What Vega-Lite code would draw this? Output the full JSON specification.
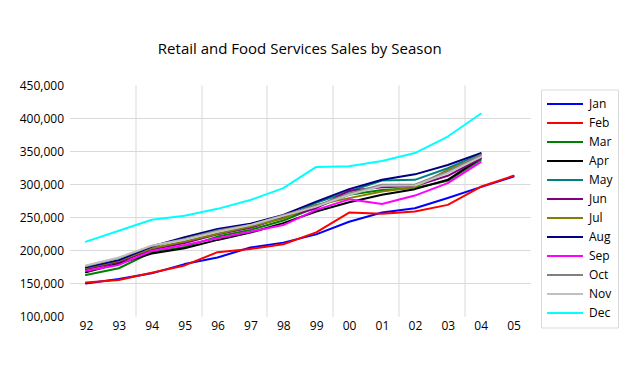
{
  "$schema": "https://vega.github.io/schema/vega-lite/v6.json",
  "width": 460.5,
  "height": 231.3,
  "autosize": {"type": "none"},
  "padding": {"left": 69.5, "top": 85, "right": 103, "bottom": 74.7},
  "background": "white",
  "title": {
    "text": "Retail and Food Services Sales by Season",
    "font": "Open Sans",
    "fontSize": 15,
    "fontWeight": "normal",
    "color": "#000000",
    "anchor": "middle",
    "offset": 22
  },
  "config": {
    "view": {"stroke": null},
    "font": "Open Sans"
  },
  "data": {
    "values": [
      {"yr": 1992, "Jan": 149700, "Feb": 151000, "Mar": 162600, "Apr": 166600, "May": 172000, "Jun": 171000, "Jul": 173000, "Aug": 174000, "Sep": 169000, "Oct": 176000, "Nov": 177000, "Dec": 213000},
      {"yr": 1993, "Jan": 156500, "Feb": 155000, "Mar": 172700, "Apr": 180000, "May": 183000, "Jun": 182000, "Jul": 184000, "Aug": 185000, "Sep": 177700, "Oct": 188000, "Nov": 189000, "Dec": 229400},
      {"yr": 1994, "Jan": 165000, "Feb": 166000, "Mar": 197000, "Apr": 195000, "May": 202000, "Jun": 201000, "Jul": 203000, "Aug": 205500, "Sep": 199000, "Oct": 206500, "Nov": 207000, "Dec": 246000},
      {"yr": 1995, "Jan": 179000, "Feb": 177000, "Mar": 205000, "Apr": 203000, "May": 213000, "Jun": 211000, "Jul": 213000, "Aug": 219700, "Sep": 208000, "Oct": 217000, "Nov": 216000, "Dec": 252000},
      {"yr": 1996, "Jan": 189000, "Feb": 197000, "Mar": 220600, "Apr": 215600, "May": 225000, "Jun": 224000, "Jul": 224700, "Aug": 232000, "Sep": 218000, "Oct": 229700, "Nov": 228000, "Dec": 262600},
      {"yr": 1997, "Jan": 204000, "Feb": 202000, "Mar": 230700, "Apr": 226600, "May": 235000, "Jun": 234000, "Jul": 236000, "Aug": 240000, "Sep": 228000, "Oct": 238000, "Nov": 238000, "Dec": 276000},
      {"yr": 1998, "Jan": 211500, "Feb": 209000, "Mar": 245000, "Apr": 241000, "May": 249000, "Jun": 250000, "Jul": 248000, "Aug": 253500, "Sep": 238000, "Oct": 253000, "Nov": 252000, "Dec": 294000},
      {"yr": 1999, "Jan": 224000, "Feb": 227000, "Mar": 265000, "Apr": 258500, "May": 271600, "Jun": 263600, "Jul": 268600, "Aug": 273600, "Sep": 261000, "Oct": 267000, "Nov": 266000, "Dec": 326000},
      {"yr": 2000, "Jan": 243000, "Feb": 257000, "Mar": 284000, "Apr": 272700, "May": 288800, "Jun": 290000, "Jul": 278800, "Aug": 292400, "Sep": 277000, "Oct": 286000, "Nov": 284000, "Dec": 327000},
      {"yr": 2001, "Jan": 257000, "Feb": 255000, "Mar": 291000, "Apr": 283800, "May": 305500, "Jun": 295400, "Jul": 288800, "Aug": 306500, "Sep": 270000, "Oct": 299000, "Nov": 297400, "Dec": 335000},
      {"yr": 2002, "Jan": 263600, "Feb": 258500, "Mar": 294000, "Apr": 292400, "May": 306500, "Jun": 297000, "Jul": 295400, "Aug": 314800, "Sep": 282700, "Oct": 299000, "Nov": 298000, "Dec": 347000},
      {"yr": 2003, "Jan": 279000, "Feb": 268600, "Mar": 305000, "Apr": 306500, "May": 324000, "Jun": 312600, "Jul": 321600, "Aug": 329000, "Sep": 301500, "Oct": 319000, "Nov": 316600, "Dec": 372000},
      {"yr": 2004, "Jan": 295400, "Feb": 296000, "Mar": 336800, "Apr": 339400, "May": 345400, "Jun": 339000, "Jul": 343000, "Aug": 347000, "Sep": 333300, "Oct": 344400, "Nov": 341000, "Dec": 406500},
      {"yr": 2005, "Jan": 311500, "Feb": 312600}
    ]
  },
  "transform": [
    {"fold": ["Jan", "Feb", "Mar", "Apr", "May", "Jun", "Jul", "Aug", "Sep", "Oct", "Nov", "Dec"], "as": ["month", "sales"]},
    {"filter": "isValid(datum.sales)"}
  ],
  "mark": {"type": "line", "strokeWidth": 2, "strokeCap": "round", "strokeJoin": "round"},
  "encoding": {
    "x": {
      "field": "yr",
      "type": "quantitative",
      "scale": {"domain": [1991.5, 2005.5], "nice": false, "zero": false},
      "axis": {
        "title": null,
        "values": [1992, 1993, 1994, 1995, 1996, 1997, 1998, 1999, 2000, 2001, 2002, 2003, 2004, 2005, 1993.5, 1995.5, 1997.5, 1999.5, 2001.5, 2003.5],
        "labelExpr": "datum.value % 1 ? '' : slice(format(datum.value, 'd'), 2)",
        "labelOverlap": false,
        "labelFlush": false,
        "labelFont": "Open Sans",
        "labelFontSize": 12,
        "labelColor": "#000000",
        "labelPadding": 4,
        "ticks": false,
        "domain": false,
        "grid": true,
        "gridColor": "#d9d9d9",
        "gridWidth": 1,
        "gridOpacity": {"condition": {"test": "datum.value % 1 !== 0", "value": 1}, "value": 0}
      }
    },
    "y": {
      "field": "sales",
      "type": "quantitative",
      "scale": {"domain": [100000, 450000], "nice": false, "zero": false},
      "axis": {
        "title": null,
        "values": [100000, 150000, 200000, 250000, 300000, 350000, 400000, 450000],
        "format": ",d",
        "labelFont": "Open Sans",
        "labelFontSize": 12,
        "labelColor": "#000000",
        "labelPadding": 6,
        "ticks": false,
        "domain": false,
        "grid": true,
        "gridColor": "#d9d9d9",
        "gridWidth": 1,
        "gridOpacity": {"condition": {"test": "datum.value > 100000 && datum.value < 450000", "value": 1}, "value": 0}
      }
    },
    "color": {
      "field": "month",
      "type": "nominal",
      "sort": ["Jan", "Feb", "Mar", "Apr", "May", "Jun", "Jul", "Aug", "Sep", "Oct", "Nov", "Dec"],
      "scale": {
        "domain": ["Jan", "Feb", "Mar", "Apr", "May", "Jun", "Jul", "Aug", "Sep", "Oct", "Nov", "Dec"],
        "range": ["#0000FF", "#FF0000", "#008000", "#000000", "#008080", "#800080", "#808000", "#000080", "#FF00FF", "#808080", "#C0C0C0", "#00FFFF"]
      },
      "legend": {
        "title": null,
        "orient": "none",
        "legendX": 471.5,
        "legendY": 4.5,
        "symbolType": "stroke",
        "symbolSize": 1296,
        "symbolStrokeWidth": 2,
        "clipHeight": 18.9,
        "rowPadding": 0,
        "labelFont": "Open Sans",
        "labelFontSize": 12,
        "labelColor": "#000000",
        "labelOffset": 5,
        "padding": 5,
        "strokeColor": "#d9d9d9",
        "fillColor": "white"
      }
    },
    "order": {"field": "yr", "type": "quantitative"}
  }
}
